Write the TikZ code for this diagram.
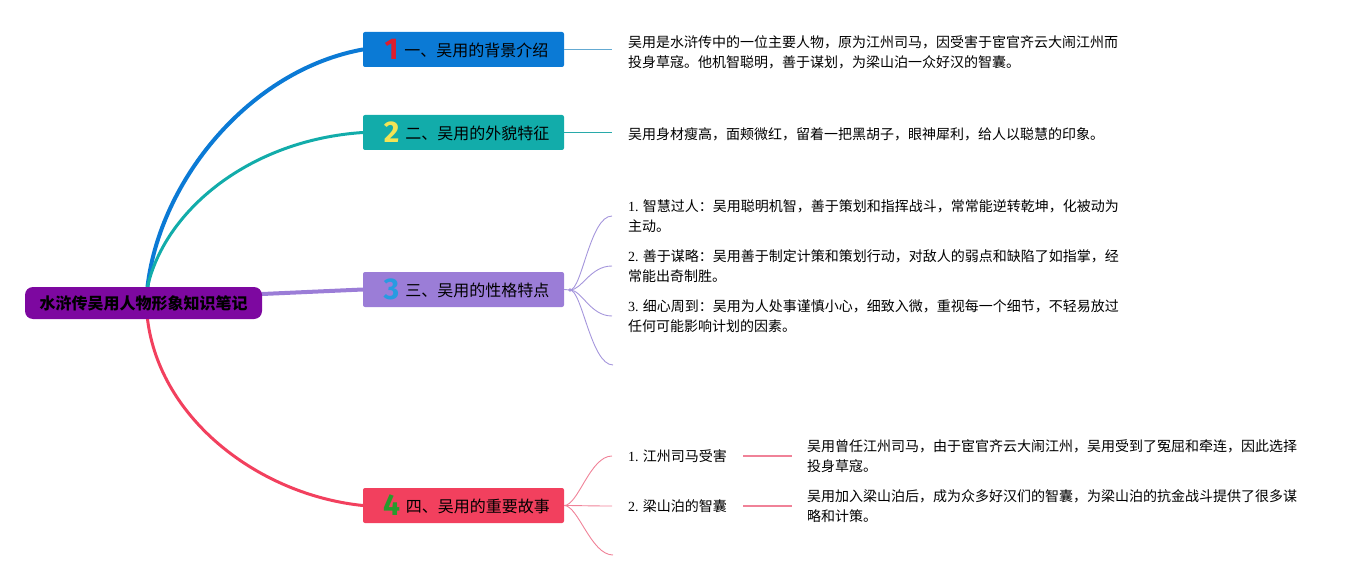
\documentclass[tikz,border=0pt]{standalone}
\usepackage{fontspec}
\setmainfont{Noto Sans CJK SC}
\newfontfamily\latfont{Liberation Serif}
\newfontfamily\numfont{Fira Sans}
\usetikzlibrary{backgrounds}
\definecolor{rootc}{RGB}{125,8,160}
\definecolor{bluec}{RGB}{11,122,213}
\definecolor{tealc}{RGB}{18,172,170}
\definecolor{purpc}{RGB}{155,125,215}
\definecolor{redc}{RGB}{242,64,94}
\definecolor{bluel}{RGB}{100,170,210}
\definecolor{teall}{RGB}{40,170,170}
\definecolor{purpl}{RGB}{165,150,220}
\definecolor{redl}{RGB}{240,130,152}
\definecolor{n1}{RGB}{222,30,45}
\definecolor{n2}{RGB}{242,228,85}
\definecolor{n3}{RGB}{40,155,225}
\definecolor{n4}{RGB}{40,155,45}
\newcommand{\bnum}[2]{\hspace{6pt}\raisebox{-3.5pt}{\numfont\bfseries\fontsize{30}{30}\selectfont\color{#1}#2}\hspace{6pt}}
\newcommand{\latn}[1]{{\latfont #1}}
\begin{document}
\begin{tikzpicture}[x=1pt,y=-1pt,
  rootbox/.style={fill=rootc, rounded corners=8pt, minimum width=237pt, minimum height=32pt, inner sep=0pt, font=\fontsize{16}{18}\selectfont\bfseries},
  branch/.style={rounded corners=2pt, minimum width=201pt, minimum height=35pt, inner sep=0pt, font=\fontsize{16}{19}\selectfont},
  detail/.style={anchor=west, align=left, inner xsep=16pt, inner ysep=0pt, font=\fontsize{14}{20}\selectfont},
  mainconn/.style={line cap=round},
  thinconn/.style={line width=0.9pt}
]
\useasboundingbox (0,0) rectangle (1367,580);
% root and branches
\node[rootbox] (root) at (143.5,303) {水浒传吴用人物形象知识笔记};
\node[branch, fill=bluec] (b1) at (463.5,49.5) {\bnum{n1}{1}一、吴用的背景介绍};
\node[branch, fill=tealc] (b2) at (463.5,132.5) {\bnum{n2}{2}二、吴用的外貌特征};
\node[branch, fill=purpc] (b3) at (463.5,289.5) {\bnum{n3}{3}三、吴用的性格特点};
\node[branch, fill=redc] (b4) at (463.5,505.5) {\bnum{n4}{4}四、吴用的重要故事};
% details
\node[detail] (d1) at (612,52) {吴用是水浒传中的一位主要人物，原为江州司马，因受害于宦官齐云大闹江州而\\投身草寇。他机智聪明，善于谋划，为梁山泊一众好汉的智囊。};
\node[detail] (d2) at (612,134) {吴用身材瘦高，面颊微红，留着一把黑胡子，眼神犀利，给人以聪慧的印象。};
\node[detail] (p1) at (612,216) {\latn{1.} 智慧过人：吴用聪明机智，善于策划和指挥战斗，常常能逆转乾坤，化被动为\\主动。};
\node[detail] (p2) at (612,266) {\latn{2.} 善于谋略：吴用善于制定计策和策划行动，对敌人的弱点和缺陷了如指掌，经\\常能出奇制胜。};
\node[detail] (p3) at (612,316) {\latn{3.} 细心周到：吴用为人处事谨慎小心，细致入微，重视每一个细节，不轻易放过\\任何可能影响计划的因素。};
\coordinate (p4) at (613,365);
\node[detail] (s1) at (612,456) {\latn{1.} 江州司马受害};
\node[detail] (s2) at (612,506) {\latn{2.} 梁山泊的智囊};
\coordinate (s3) at (613,555);
\node[detail, inner xsep=15pt] (t1) at (792,456) {吴用曾任江州司马，由于宦官齐云大闹江州，吴用受到了冤屈和牵连，因此选择\\投身草寇。};
\node[detail, inner xsep=15pt] (t2) at (792,506) {吴用加入梁山泊后，成为众多好汉们的智囊，为梁山泊的抗金战斗提供了很多谋\\略和计策。};
\coordinate (f3) at (570,290);
\begin{scope}[on background layer]
\draw[mainconn, bluec, line width=4pt] ([xshift=4pt]root.north) .. controls (160,180) and (250,70) .. (b1.west);
\draw[mainconn, tealc, line width=3pt] ([xshift=4pt]root.north) .. controls (165,210) and (250,140) .. (b2.west);
\draw[mainconn, purpc, line width=4pt] ([yshift=9pt]root.east) -- (b3.west);
\draw[mainconn, redc, line width=3pt] ([xshift=4pt]root.south) .. controls (160,420) and (260,495) .. (b4.west);
\end{scope}
\draw[thinconn, bluel] (b1.east) -- (b1.east -| d1.west);
\draw[thinconn, teall] (b2.east) -- (b2.east -| d2.west);
\draw[thinconn, purpl] (b3.east) -- (f3);
\fill[purpl] (f3) circle (1.8pt);
\foreach \t in {p1,p2,p3}
  \draw[thinconn, purpl] (f3) .. controls +(12,0) and +(-22,0) .. (\t.west);
\draw[thinconn, purpl] (f3) .. controls +(12,0) and +(-22,0) .. (p4);
\foreach \t in {s1,s2}
  \draw[thinconn, redl] (b4.east) .. controls +(14,0) and +(-22,0) .. (\t.west);
\draw[thinconn, redl] (b4.east) .. controls +(14,0) and +(-22,0) .. (s3);
\draw[thinconn, redl, line width=1.2pt] (s1.east) -- (s1.east -| t1.west);
\draw[thinconn, redl, line width=1.2pt] (s2.east) -- (s2.east -| t2.west);
\end{tikzpicture}
\end{document}
